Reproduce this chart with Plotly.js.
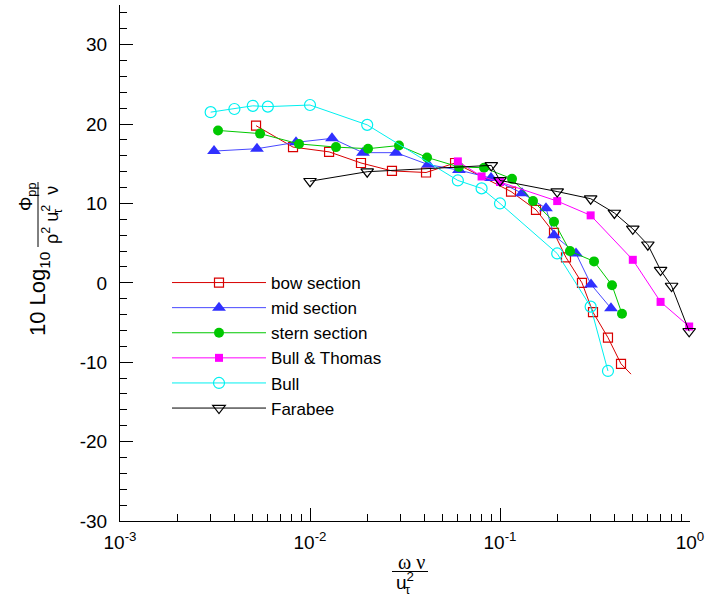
<!DOCTYPE html>
<html>
<head>
<meta charset="utf-8">
<script src="https://cdn.plot.ly/plotly-3.0.1.min.js"></script>
<style>html,body{margin:0;padding:0;background:#fff;}#chart{width:707px;height:606px;}</style>
</head>
<body>
<div id="chart"></div>
<script>
// ---- data ----
const seriesNames = ['bow section', 'mid section', 'stern section', 'Bull &amp; Thomas', 'Bull', 'Farabee'];

const bowX = [0.0052, 0.00814, 0.0126, 0.01855, 0.027, 0.0408, 0.058, 0.1143, 0.1547, 0.1924, 0.2225, 0.2701, 0.3086, 0.3701, 0.4334];
const bowY = [19.8, 17.1, 16.5, 15.1, 14.1, 13.9, 15.1, 11.5, 9.2, 6.3, 3.2, 0.0, -3.7, -6.9, -10.2];
const bowTailX = [0.4334, 0.4892];
const bowTailY = [-10.2, -11.5];

const midX = [0.003125, 0.00526, 0.00844, 0.01305, 0.019, 0.02836, 0.0418, 0.0608, 0.0897, 0.1305, 0.1746, 0.1924, 0.2512, 0.3013, 0.3838];
const midY = [16.6, 16.9, 17.7, 18.2, 16.4, 16.4, 14.9, 14.2, 13.2, 11.3, 9.4, 6.0, 3.7, -0.2, -3.2];

const sternX = [0.00328, 0.00546, 0.00875, 0.0137, 0.0202, 0.0294, 0.0413, 0.0608, 0.0824, 0.1157, 0.1492, 0.1924, 0.2335, 0.3125, 0.3886, 0.4386];
const sternY = [19.2, 18.8, 17.5, 17.1, 16.9, 17.3, 15.8, 14.6, 14.5, 13.1, 10.3, 7.7, 4.0, 2.7, -0.3, -3.9];

const btX = [0.06, 0.08, 0.1, 0.2, 0.3, 0.5, 0.7, 0.99];
const btY = [15.3, 13.4, 12.7, 10.3, 8.5, 2.9, -2.4, -5.5];

const bullX = [0.003, 0.004, 0.005, 0.006, 0.01, 0.02, 0.06, 0.08, 0.1, 0.2, 0.3, 0.37];
const bullY = [21.5, 21.9, 22.3, 22.2, 22.4, 19.9, 12.9, 11.9, 10.0, 3.7, -3.0, -11.1];

const farX = [0.01, 0.02, 0.09, 0.1, 0.2, 0.3, 0.4, 0.5, 0.6, 0.7, 0.8, 0.99];
const farY = [12.8, 14.0, 14.8, 12.9, 11.5, 10.6, 8.8, 6.8, 4.8, 1.6, -0.4, -6.1];

const xTickVals = [0.001, 0.01, 0.1, 1];
const xTickText = ['10<sup>-3</sup>', '10<sup>-2</sup>', '10<sup>-1</sup>', '10<sup>0</sup>'];
const yTickVals = [-30, -20, -10, 0, 10, 20, 30];
const yTickText = ['-30', '-20', '-10', '0', '10', '20', '30'];

// ---- styling ----
const FONT = 'Arial, "Liberation Sans", sans-serif';
const SERIF = '"Liberation Serif", "Times New Roman", serif';

function tr(name, x, y, color, lineColor, symbol, size, filled) {
  return {
    type: 'scatter', mode: 'lines+markers', name: name, x: x, y: y,
    line: {color: lineColor, width: 1},
    marker: {symbol: symbol, size: size, color: color,
             line: {color: color, width: filled ? 0 : 1.2}},
    cliponaxis: false
  };
}

const RED = '#d80000', BLUE = '#3030ff', GREEN = '#00c800', MAG = '#ff00ff', CYAN = '#00f0f0', BLACK = '#000000';

const data = [
  tr(seriesNames[0], bowX, bowY, RED, RED, 'square-open', 9, false),
  {type: 'scatter', mode: 'lines', x: bowTailX, y: bowTailY, line: {color: RED, width: 1}, showlegend: false, hoverinfo: 'skip'},
  tr(seriesNames[1], midX, midY, BLUE, '#4848ff', 'triangle-up', 12, true),
  tr(seriesNames[2], sternX, sternY, GREEN, GREEN, 'circle', 10, true),
  tr(seriesNames[3], btX, btY, MAG, MAG, 'square', 8, true),
  tr(seriesNames[4], bullX, bullY, CYAN, CYAN, 'circle-open', 11, false),
  tr(seriesNames[5], farX, farY, BLACK, BLACK, 'triangle-down-open', 11, false)
];

// pixel -> paper helpers (plot area: x 120..690, y 5..521)
const L = 120, R = 690, T = 5, B = 521;
const px = v => (v - L) / (R - L);
const py = v => (B - v) / (B - T);

const layout = {
  width: 707, height: 606,
  margin: {l: L, r: 707 - R, t: T, b: 606 - B, pad: 0},
  paper_bgcolor: '#fff', plot_bgcolor: '#fff',
  font: {family: FONT, size: 19, color: '#000'},
  showlegend: true,
  legend: {
    x: px(167), y: py(265), xanchor: 'left', yanchor: 'top',
    font: {family: FONT, size: 17, color: '#000'},
    itemwidth: 94, tracegroupgap: 0, bgcolor: 'rgba(0,0,0,0)', borderwidth: 0
  },
  xaxis: {
    type: 'log', range: [-3, 0], showgrid: false, zeroline: false,
    showline: true, linecolor: '#000', linewidth: 1,
    tickmode: 'array', tickvals: xTickVals, ticktext: xTickText,
    ticks: 'inside', ticklen: 13, tickwidth: 1, tickcolor: '#000',
    ticklabelstandoff: 4,
    tickfont: {family: FONT, size: 19, color: '#000'},
    minor: {dtick: 'D1', ticks: 'inside', ticklen: 7, tickwidth: 1, tickcolor: '#000', showgrid: false}
  },
  yaxis: {
    range: [-30, 35], showgrid: false, zeroline: false,
    showline: true, linecolor: '#000', linewidth: 1,
    tickmode: 'array', tickvals: yTickVals, ticktext: yTickText,
    ticks: 'inside', ticklen: 13, tickwidth: 1, tickcolor: '#000',
    ticklabelstandoff: 8,
    tickfont: {family: FONT, size: 19, color: '#000'},
    minor: {dtick: 2, tick0: 0, ticks: 'inside', ticklen: 7, tickwidth: 1, tickcolor: '#000', showgrid: false}
  },
  shapes: [
    // fraction bars of the axis titles
    {type: 'line', xref: 'paper', yref: 'paper', x0: px(392), x1: px(428), y0: py(571.5), y1: py(571.5), line: {color: '#000', width: 1}},
    {type: 'line', xref: 'paper', yref: 'paper', x0: px(38), x1: px(38), y0: py(182), y1: py(247), line: {color: '#000', width: 1}}
  ],
  annotations: [
    // x title
    {xref: 'paper', yref: 'paper', x: px(411), y: py(562), xanchor: 'center', yanchor: 'middle', showarrow: false,
     text: 'ω ν', font: {family: SERIF, size: 20, color: '#000'}},
    {xref: 'paper', yref: 'paper', x: px(394), y: py(581), xanchor: 'left', yanchor: 'middle', showarrow: false,
     text: 'u<sup>2</sup>', font: {family: FONT, size: 19, color: '#000'}},
    {xref: 'paper', yref: 'paper', x: px(408), y: py(589), xanchor: 'center', yanchor: 'middle', showarrow: false,
     text: 'τ', font: {family: FONT, size: 13, color: '#000'}},
    // y title
    {xref: 'paper', yref: 'paper', x: px(39), y: py(294), xanchor: 'center', yanchor: 'middle', showarrow: false, textangle: -90,
     text: '10 Log<sub>10</sub>', font: {family: FONT, size: 22, color: '#000'}},
    {xref: 'paper', yref: 'paper', x: px(27), y: py(197), xanchor: 'center', yanchor: 'middle', showarrow: false, textangle: -90,
     text: 'Φ<sub>pp</sub>', font: {family: FONT, size: 18, color: '#000'}},
    {xref: 'paper', yref: 'paper', x: px(51), y: py(215), xanchor: 'center', yanchor: 'middle', showarrow: false, textangle: -90,
     text: 'ρ<sup>2</sup> u<sup>2</sup>  ν', font: {family: FONT, size: 18, color: '#000'}},
    {xref: 'paper', yref: 'paper', x: px(57), y: py(211), xanchor: 'center', yanchor: 'middle', showarrow: false, textangle: -90,
     text: 'τ', font: {family: FONT, size: 13, color: '#000'}}
  ]
};

Plotly.newPlot('chart', data, layout, {displayModeBar: false, staticPlot: true});
</script>
</body>
</html>
